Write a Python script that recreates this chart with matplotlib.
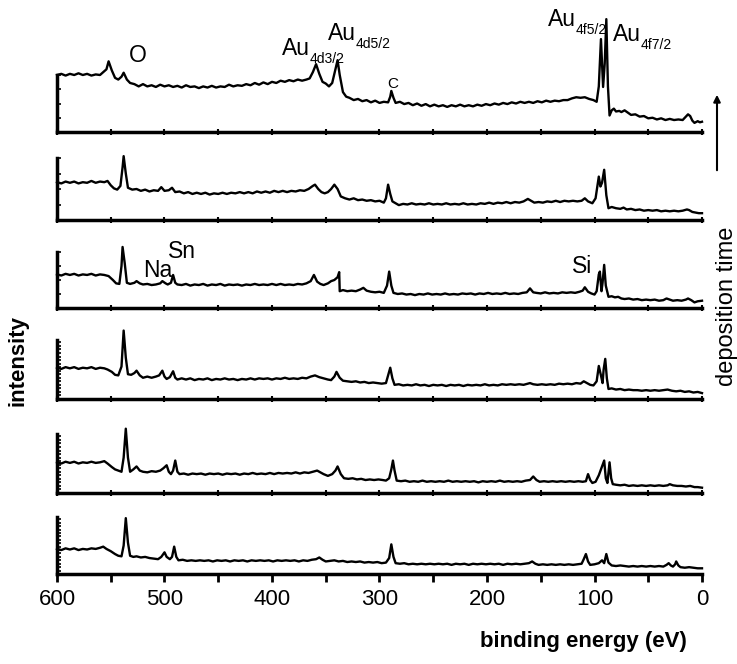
import matplotlib
matplotlib.use("Agg")
import matplotlib.pyplot as plt
import matplotlib.transforms as mtransforms
from matplotlib.patches import FancyArrowPatch

plt.rcParams['font.family'] = ['Liberation Sans', 'DejaVu Sans']

# XPS survey spectra, top (longest deposition) to bottom; intensity in panel units
e1 = [600, 596, 592, 588, 584, 580, 576, 572, 568, 564, 560, 557, 554, 552, 549, 546, 543, 540, 538, 535,
      532, 528, 524, 520, 516, 512, 508, 504, 500, 496, 492, 488, 484, 480, 476, 472, 468, 464, 460, 456,
      452, 448, 444, 440, 436, 432, 428, 424, 420, 416, 412, 408, 404, 400, 396, 392, 388, 384, 380, 376,
      372, 368, 365, 362, 359, 356, 353, 350, 347, 344, 341, 339, 337, 334, 331, 328, 324, 320, 316, 312,
      308, 304, 300, 296, 292, 290, 289, 287, 285, 281, 277, 273, 269, 265, 261, 257, 253, 249, 245, 241,
      237, 233, 229, 225, 221, 217, 213, 209, 205, 201, 197, 193, 189, 185, 181, 177, 173, 169, 165, 161,
      157, 153, 149, 145, 141, 137, 133, 129, 125, 121, 117, 113, 109, 105, 101, 98, 96, 94, 92, 90.5,
      89, 87.5, 86, 84, 82, 80, 77, 75, 72, 69, 66, 62, 58, 54, 50, 46, 42, 38, 34, 30,
      26, 22, 18, 15, 13, 11, 9, 7, 4, 2, 0]
i1 = [1.00, 1.02, 0.99, 1.02, 1.00, 1.03, 1.00, 1.02, 0.99, 1.01, 1.00, 1.05, 1.10, 1.24, 1.08, 0.95, 0.92, 0.97, 1.04, 0.92,
      0.86, 0.84, 0.80, 0.84, 0.80, 0.82, 0.79, 0.83, 0.80, 0.82, 0.79, 0.81, 0.78, 0.82, 0.79, 0.80, 0.77, 0.80, 0.78, 0.81,
      0.78, 0.80, 0.79, 0.83, 0.80, 0.82, 0.81, 0.84, 0.82, 0.86, 0.83, 0.87, 0.84, 0.88, 0.86, 0.90, 0.88, 0.91, 0.89, 0.92,
      0.90, 0.92, 0.94, 1.05, 1.19, 1.02, 0.88, 0.85, 0.80, 0.86, 1.10, 1.26, 1.00, 0.70, 0.62, 0.60, 0.56, 0.58, 0.54, 0.56,
      0.52, 0.55, 0.51, 0.53, 0.52, 0.62, 0.72, 0.60, 0.51, 0.53, 0.49, 0.51, 0.47, 0.50, 0.46, 0.49, 0.45, 0.48, 0.45, 0.47,
      0.44, 0.47, 0.45, 0.48, 0.45, 0.47, 0.45, 0.48, 0.46, 0.49, 0.47, 0.50, 0.48, 0.51, 0.49, 0.52, 0.50, 0.53, 0.51, 0.53,
      0.51, 0.54, 0.52, 0.55, 0.53, 0.55, 0.54, 0.56, 0.56, 0.59, 0.61, 0.60, 0.61, 0.58, 0.56, 0.53, 0.80, 1.63, 0.79, 1.20,
      1.98, 0.80, 0.29, 0.38, 0.41, 0.36, 0.37, 0.35, 0.38, 0.34, 0.30, 0.31, 0.27, 0.28, 0.24, 0.25, 0.22, 0.24, 0.21, 0.23,
      0.21, 0.22, 0.21, 0.27, 0.31, 0.28, 0.20, 0.16, 0.19, 0.17, 0.18]

e2 = [600, 596, 592, 588, 584, 580, 576, 572, 568, 564, 560, 556, 553, 550, 547, 544, 541, 539, 538, 536,
      534, 530, 526, 522, 518, 514, 510, 506, 503, 500, 496, 493, 490, 486, 482, 478, 474, 470, 466, 462,
      458, 454, 450, 446, 442, 438, 434, 430, 426, 422, 418, 414, 410, 406, 402, 398, 394, 390, 386, 382,
      378, 374, 370, 366, 362, 360, 357, 354, 351, 348, 345, 342, 339, 336, 332, 328, 324, 320, 316, 312,
      308, 304, 300, 296, 294, 292, 290, 288, 285, 282, 278, 274, 270, 266, 262, 258, 254, 250, 246, 242,
      238, 234, 230, 226, 222, 218, 214, 210, 206, 202, 198, 194, 190, 186, 182, 178, 174, 170, 166, 162,
      159, 156, 152, 148, 144, 140, 136, 132, 128, 124, 120, 116, 112, 109, 106, 102, 99, 96, 94.5, 93,
      91, 89, 87, 84, 80, 76, 73, 70, 66, 62, 58, 54, 50, 46, 42, 38, 34, 30, 26, 22,
      18, 14, 12, 9, 6, 3, 0]
i2 = [0.61, 0.59, 0.62, 0.60, 0.62, 0.59, 0.61, 0.60, 0.63, 0.60, 0.62, 0.61, 0.63, 0.56, 0.51, 0.49, 0.55, 0.85, 1.03, 0.75,
      0.52, 0.49, 0.50, 0.47, 0.49, 0.46, 0.48, 0.47, 0.53, 0.47, 0.48, 0.52, 0.45, 0.46, 0.43, 0.45, 0.42, 0.44, 0.42, 0.44,
      0.41, 0.43, 0.42, 0.44, 0.42, 0.44, 0.43, 0.45, 0.43, 0.45, 0.43, 0.46, 0.44, 0.46, 0.44, 0.47, 0.45, 0.47, 0.45, 0.47,
      0.46, 0.48, 0.47, 0.50, 0.55, 0.57, 0.50, 0.45, 0.43, 0.45, 0.50, 0.57, 0.50, 0.38, 0.35, 0.33, 0.35, 0.32, 0.33, 0.31,
      0.32, 0.30, 0.31, 0.28, 0.35, 0.57, 0.42, 0.30, 0.27, 0.24, 0.26, 0.25, 0.27, 0.25, 0.26, 0.25, 0.27, 0.25, 0.26, 0.25,
      0.27, 0.25, 0.26, 0.25, 0.27, 0.25, 0.26, 0.25, 0.27, 0.26, 0.28, 0.26, 0.28, 0.27, 0.29, 0.27, 0.29, 0.28, 0.30, 0.34,
      0.31, 0.28, 0.29, 0.28, 0.30, 0.29, 0.31, 0.29, 0.31, 0.30, 0.31, 0.30, 0.31, 0.35, 0.30, 0.27, 0.35, 0.70, 0.54, 0.60,
      0.81, 0.40, 0.19, 0.21, 0.19, 0.18, 0.20, 0.17, 0.18, 0.16, 0.17, 0.15, 0.16, 0.15, 0.16, 0.14, 0.15, 0.14, 0.15, 0.14,
      0.15, 0.17, 0.16, 0.13, 0.12, 0.11, 0.11]

e3 = [600, 596, 592, 588, 584, 580, 576, 572, 568, 564, 560, 556, 552, 548, 545, 542, 540, 539, 537, 535,
      532, 528, 526, 523, 520, 516, 512, 508, 504, 502, 499, 497, 494, 492, 490, 488, 484, 480, 476, 472,
      468, 464, 460, 456, 452, 448, 444, 440, 436, 432, 428, 424, 420, 416, 412, 408, 404, 400, 396, 392,
      388, 384, 380, 376, 372, 368, 364, 361, 358, 355, 352, 348, 345, 342, 339, 337.5, 337, 334, 330, 326,
      322, 318, 315, 312, 308, 304, 300, 296, 293, 291, 289, 287, 283, 279, 275, 271, 267, 263, 259, 255,
      251, 247, 243, 239, 235, 231, 227, 223, 219, 215, 211, 207, 203, 199, 195, 191, 187, 183, 179, 175,
      171, 167, 163, 160, 157, 154, 150, 146, 142, 138, 134, 130, 126, 122, 118, 114, 111, 109, 106, 103,
      100, 98, 96, 95, 93.5, 92.5, 91, 89.5, 87, 84, 81, 78, 75, 72, 68, 64, 60, 56, 52, 48,
      44, 40, 36, 33, 30, 27, 23, 19, 15, 13, 10, 7, 4, 0]
i3 = [0.60, 0.58, 0.61, 0.59, 0.61, 0.58, 0.60, 0.59, 0.61, 0.58, 0.60, 0.59, 0.57, 0.50, 0.44, 0.43, 0.75, 1.09, 0.80, 0.45,
      0.43, 0.45, 0.48, 0.44, 0.42, 0.43, 0.41, 0.42, 0.44, 0.48, 0.44, 0.42, 0.45, 0.59, 0.45, 0.42, 0.41, 0.43, 0.40, 0.42,
      0.41, 0.43, 0.40, 0.42, 0.41, 0.43, 0.40, 0.42, 0.41, 0.42, 0.40, 0.42, 0.41, 0.43, 0.41, 0.42, 0.41, 0.43, 0.41, 0.43,
      0.41, 0.42, 0.41, 0.43, 0.42, 0.44, 0.48, 0.59, 0.47, 0.43, 0.41, 0.44, 0.48, 0.50, 0.55, 0.64, 0.30, 0.32, 0.30, 0.31,
      0.30, 0.33, 0.36, 0.31, 0.29, 0.28, 0.29, 0.27, 0.40, 0.65, 0.40, 0.27, 0.25, 0.26, 0.24, 0.25, 0.23, 0.25, 0.24, 0.26,
      0.24, 0.25, 0.24, 0.26, 0.24, 0.25, 0.24, 0.26, 0.25, 0.26, 0.24, 0.26, 0.25, 0.27, 0.25, 0.26, 0.25, 0.27, 0.25, 0.26,
      0.25, 0.27, 0.28, 0.35, 0.28, 0.27, 0.26, 0.28, 0.26, 0.27, 0.26, 0.28, 0.27, 0.28, 0.27, 0.29, 0.31, 0.37, 0.29, 0.26,
      0.24, 0.30, 0.60, 0.65, 0.30, 0.45, 0.77, 0.40, 0.20, 0.21, 0.19, 0.20, 0.17, 0.16, 0.17, 0.15, 0.16, 0.14, 0.15, 0.14,
      0.15, 0.13, 0.14, 0.17, 0.15, 0.13, 0.14, 0.13, 0.15, 0.17, 0.14, 0.10, 0.12, 0.13]

e4 = [600, 596, 592, 588, 584, 580, 576, 572, 568, 564, 560, 556, 553, 549, 546, 543, 540, 538, 536, 534,
      531, 528, 526, 523, 520, 516, 512, 508, 505, 502, 500, 498, 495, 492, 490, 488, 484, 480, 476, 472,
      468, 464, 460, 456, 452, 448, 444, 440, 436, 432, 428, 424, 420, 416, 412, 408, 404, 400, 396, 392,
      388, 384, 380, 376, 372, 368, 364, 360, 356, 352, 348, 345, 342, 340, 337, 334, 330, 326, 322, 318,
      314, 310, 306, 302, 298, 294, 292, 290, 288, 286, 282, 278, 274, 270, 266, 262, 258, 254, 250, 246,
      242, 238, 234, 230, 226, 222, 218, 214, 210, 206, 202, 198, 194, 190, 186, 182, 178, 174, 170, 166,
      162, 160, 157, 153, 149, 145, 141, 137, 133, 129, 125, 121, 117, 113, 110, 107, 104, 101, 98, 96,
      94, 92.5, 91.5, 90, 88.5, 87, 84, 80, 76, 72, 68, 64, 60, 56, 52, 48, 44, 40, 36, 32,
      28, 24, 20, 16, 12, 8, 4, 0]
i4 = [0.53, 0.51, 0.54, 0.52, 0.54, 0.51, 0.53, 0.52, 0.54, 0.51, 0.53, 0.52, 0.50, 0.46, 0.41, 0.40, 0.55, 1.16, 0.70, 0.42,
      0.41, 0.44, 0.48, 0.40, 0.36, 0.38, 0.36, 0.38, 0.40, 0.48, 0.38, 0.34, 0.37, 0.47, 0.36, 0.33, 0.35, 0.33, 0.35, 0.32,
      0.34, 0.33, 0.35, 0.32, 0.34, 0.33, 0.35, 0.33, 0.34, 0.32, 0.34, 0.33, 0.35, 0.33, 0.35, 0.34, 0.35, 0.33, 0.35, 0.34,
      0.36, 0.34, 0.35, 0.34, 0.36, 0.35, 0.38, 0.40, 0.37, 0.35, 0.33, 0.32, 0.38, 0.46, 0.36, 0.31, 0.30, 0.29, 0.30, 0.28,
      0.29, 0.27, 0.28, 0.27, 0.26, 0.27, 0.40, 0.53, 0.35, 0.24, 0.25, 0.23, 0.24, 0.23, 0.25, 0.23, 0.24, 0.22, 0.24, 0.23,
      0.24, 0.22, 0.24, 0.23, 0.24, 0.22, 0.24, 0.23, 0.24, 0.23, 0.25, 0.23, 0.24, 0.23, 0.25, 0.24, 0.25, 0.24, 0.25, 0.24,
      0.26, 0.27, 0.25, 0.24, 0.25, 0.24, 0.25, 0.24, 0.26, 0.25, 0.26, 0.25, 0.27, 0.26, 0.30, 0.27, 0.24, 0.23, 0.30, 0.56,
      0.40, 0.27, 0.50, 0.68, 0.35, 0.17, 0.18, 0.16, 0.17, 0.15, 0.16, 0.15, 0.15, 0.14, 0.15, 0.14, 0.15, 0.14, 0.15, 0.16,
      0.14, 0.13, 0.14, 0.12, 0.13, 0.11, 0.12, 0.10]

e5 = [600, 596, 592, 588, 584, 580, 576, 572, 568, 564, 560, 556, 553, 549, 546, 543, 540, 538, 536, 534,
      532, 529, 526, 523, 520, 516, 512, 508, 504, 501, 498, 496, 494, 492, 490, 488, 486, 482, 478, 474,
      470, 466, 462, 458, 454, 450, 446, 442, 438, 434, 430, 426, 422, 418, 414, 410, 406, 402, 398, 394,
      390, 386, 382, 378, 374, 370, 366, 362, 358, 355, 352, 348, 344, 341, 339, 336, 333, 329, 325, 321,
      317, 313, 309, 305, 301, 297, 294, 291, 289, 287.5, 286, 284, 280, 276, 272, 268, 264, 260, 256, 252,
      248, 244, 240, 236, 232, 228, 224, 220, 216, 212, 208, 204, 200, 196, 192, 188, 184, 180, 176, 172,
      168, 164, 160, 157, 154, 151, 147, 143, 139, 135, 131, 127, 123, 119, 115, 111, 108, 106, 104, 102,
      99, 96, 93, 91, 89.5, 88, 87, 86, 84.5, 83, 80, 76, 72, 68, 64, 60, 56, 52, 48, 44,
      40, 36, 32, 30, 27, 23, 19, 15, 11, 7, 4, 0]
i5 = [0.52, 0.50, 0.53, 0.51, 0.53, 0.50, 0.52, 0.51, 0.53, 0.51, 0.52, 0.54, 0.50, 0.44, 0.40, 0.38, 0.36, 0.60, 1.09, 0.60,
      0.36, 0.40, 0.45, 0.38, 0.36, 0.35, 0.37, 0.36, 0.38, 0.42, 0.47, 0.36, 0.32, 0.38, 0.55, 0.36, 0.32, 0.33, 0.31, 0.33,
      0.32, 0.33, 0.31, 0.33, 0.32, 0.33, 0.31, 0.33, 0.32, 0.33, 0.31, 0.33, 0.32, 0.34, 0.32, 0.33, 0.32, 0.34, 0.32, 0.34,
      0.33, 0.34, 0.33, 0.35, 0.33, 0.35, 0.34, 0.36, 0.38, 0.35, 0.32, 0.29, 0.32, 0.38, 0.45, 0.32, 0.25, 0.24, 0.25, 0.23,
      0.24, 0.22, 0.23, 0.22, 0.23, 0.22, 0.21, 0.25, 0.40, 0.55, 0.38, 0.21, 0.20, 0.21, 0.19, 0.20, 0.19, 0.21, 0.19, 0.20,
      0.19, 0.20, 0.19, 0.21, 0.19, 0.20, 0.19, 0.20, 0.19, 0.20, 0.18, 0.20, 0.19, 0.20, 0.19, 0.21, 0.19, 0.20, 0.19, 0.20,
      0.19, 0.21, 0.22, 0.28, 0.22, 0.19, 0.20, 0.19, 0.20, 0.19, 0.20, 0.19, 0.20, 0.19, 0.20, 0.19, 0.20, 0.32, 0.22, 0.17,
      0.19, 0.30, 0.45, 0.55, 0.25, 0.17, 0.35, 0.52, 0.25, 0.15, 0.14, 0.13, 0.14, 0.12, 0.13, 0.12, 0.13, 0.12, 0.13, 0.12,
      0.13, 0.12, 0.13, 0.15, 0.13, 0.12, 0.12, 0.11, 0.12, 0.10, 0.10, 0.09]

e6 = [600, 596, 592, 588, 584, 580, 576, 572, 568, 564, 560, 557, 554, 550, 546, 543, 540, 538, 536, 534,
      532, 529, 526, 522, 518, 514, 510, 506, 503, 500, 498, 495, 493, 491, 489, 487, 483, 479, 475, 471,
      467, 463, 459, 455, 451, 447, 443, 439, 435, 431, 427, 423, 419, 415, 411, 407, 403, 399, 395, 391,
      387, 383, 379, 375, 371, 367, 363, 359, 356, 353, 350, 346, 342, 338, 334, 330, 326, 322, 318, 314,
      310, 306, 302, 298, 294, 291, 289, 287, 285, 281, 277, 273, 269, 265, 261, 257, 253, 249, 245, 241,
      237, 233, 229, 225, 221, 217, 213, 209, 205, 201, 197, 193, 189, 185, 181, 177, 173, 169, 165, 161,
      158, 155, 152, 148, 144, 140, 136, 132, 128, 124, 120, 116, 112, 110, 108, 106, 104, 100, 96, 93,
      91, 89, 87, 84, 80, 76, 72, 68, 64, 60, 56, 52, 48, 44, 40, 36, 33, 31, 29, 27,
      25, 24, 22, 20, 16, 12, 8, 4, 0]
i6 = [0.44, 0.42, 0.45, 0.43, 0.45, 0.42, 0.44, 0.43, 0.45, 0.44, 0.46, 0.48, 0.44, 0.40, 0.35, 0.32, 0.31, 0.50, 0.98, 0.55,
      0.32, 0.30, 0.31, 0.29, 0.30, 0.28, 0.27, 0.26, 0.30, 0.38, 0.30, 0.26, 0.30, 0.48, 0.30, 0.24, 0.25, 0.23, 0.24, 0.23,
      0.24, 0.23, 0.24, 0.22, 0.24, 0.23, 0.24, 0.22, 0.24, 0.23, 0.24, 0.22, 0.24, 0.23, 0.24, 0.23, 0.24, 0.22, 0.24, 0.23,
      0.24, 0.23, 0.24, 0.22, 0.24, 0.23, 0.25, 0.26, 0.29, 0.25, 0.22, 0.23, 0.24, 0.22, 0.23, 0.21, 0.22, 0.21, 0.22, 0.20,
      0.21, 0.20, 0.21, 0.19, 0.20, 0.28, 0.52, 0.30, 0.19, 0.18, 0.19, 0.17, 0.18, 0.17, 0.18, 0.17, 0.18, 0.17, 0.18, 0.17,
      0.18, 0.16, 0.18, 0.17, 0.18, 0.16, 0.18, 0.17, 0.18, 0.17, 0.18, 0.17, 0.18, 0.16, 0.18, 0.17, 0.18, 0.17, 0.18, 0.19,
      0.22, 0.18, 0.16, 0.17, 0.16, 0.17, 0.16, 0.17, 0.16, 0.17, 0.16, 0.17, 0.18, 0.26, 0.35, 0.22, 0.16, 0.17, 0.19, 0.24,
      0.19, 0.35, 0.20, 0.15, 0.14, 0.15, 0.14, 0.13, 0.14, 0.13, 0.14, 0.13, 0.14, 0.13, 0.14, 0.13, 0.16, 0.19, 0.15, 0.13,
      0.17, 0.22, 0.15, 0.12, 0.11, 0.12, 0.11, 0.10, 0.10]

energies = [e1, e2, e3, e4, e5, e6]
intensities = [i1, i2, i3, i4, i5, i6]

xticks = [600, 500, 400, 300, 200, 100, 0]

# panel (top px, bottom px) in the 664 px tall figure
panel_px = [(75, 132), (158, 220), (252, 308), (340, 399), (434, 493), (517, 574)]

W, H = 737, 664
fig = plt.figure(figsize=(W / 100, H / 100), dpi=100)
left = 57 / W
width = (702 - 57) / W

axes = []
for k, (top, bot) in enumerate(panel_px):
    ax = fig.add_axes([left, 1 - bot / H, width, (bot - top) / H])
    ax.plot(energies[k], intensities[k], color='black', lw=1.7, clip_on=False)
    ax.set_xlim(600, 0)
    ax.set_ylim(0, 1)
    for s in ['top', 'right']:
        ax.spines[s].set_visible(False)
    for s in ['left', 'bottom']:
        ax.spines[s].set_linewidth(2.5)
    ax.set_xticks(range(0, 601, 50))
    step = 0.25 if k < 3 else 0.06
    ax.set_yticks([t * step for t in range(int(1 / step) + 1)])
    ax.set_yticklabels([])
    ax.tick_params(axis='y', direction='in', length=3, width=1.2)
    if k < 5:
        ax.set_xticklabels([])
        ax.tick_params(axis='x', direction='inout', length=4, width=1.5)
    else:
        ax.set_xticklabels([str(v) if v in xticks else '' for v in range(0, 601, 50)])
        ax.tick_params(axis='x', direction='out', length=6, width=2, labelsize=16, pad=5)
    axes.append(ax)


def label(ax, x, y, main, sub=None, size=16.5, subsize=10):
    tr = ax.get_xaxis_transform()
    ax.text(x, y, main, transform=tr, fontsize=size, ha='left', va='baseline')
    if sub:
        off = mtransforms.offset_copy(tr, fig=fig, x=size * 1.2, y=-6, units='points')
        ax.text(x, y, sub, transform=off, fontsize=subsize, ha='left', va='baseline')


a1 = axes[0]
label(a1, 533, 1.23, 'O')
label(a1, 391, 1.35, 'Au', '4d3/2')
label(a1, 348, 1.62, 'Au', '4d5/2')
label(a1, 293, 0.77, 'C', size=11)
label(a1, 143, 1.86, 'Au', '4f5/2')
label(a1, 83, 1.60, 'Au', '4f7/2')

a3 = axes[2]
label(a3, 497, 0.89, 'Sn')
label(a3, 520, 0.55, 'Na')
label(a3, 121, 0.62, 'Si')

fig.text(18 / W, 1 - 361 / H, 'intensity', rotation=90, fontsize=16, fontweight='bold',
         ha='center', va='center')
fig.text(583 / W, 1 - 642 / H, 'binding energy (eV)', fontsize=16, fontweight='bold',
         ha='center', va='center')
fig.text(727 / W, 1 - 306 / H, 'deposition time', rotation=90, fontsize=17,
         ha='center', va='center')
fig.patches.append(FancyArrowPatch(
    (717 / W, 1 - 173 / H), (717 / W, 1 - 92 / H), transform=fig.transFigure,
    arrowstyle='-|>', mutation_scale=10, lw=1.5, color='black'))

fig.savefig('out.png', dpi=100)
